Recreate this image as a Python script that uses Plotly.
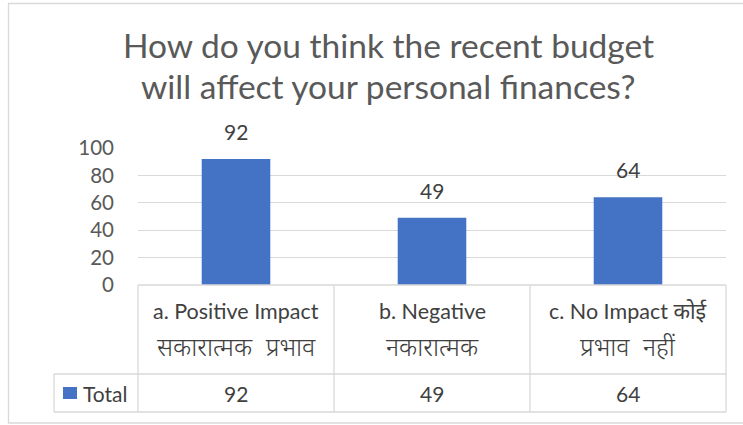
import plotly.graph_objects as go

categories_en = ["a. Positive Impact", "b. Negative", "c. No Impact कोई"]
categories_hi = ["सकारात्मक  प्रभाव", "नकारात्मक", "प्रभाव  नहीं"]
values = [92, 49, 64]
series_name = "Total"
title_lines = ["How do you think the recent budget", "will affect your personal finances?"]
y_ticks = [0, 20, 40, 60, 80, 100]

W, H = 743, 425
L, R, T, B = 138, 726, 148, 285
FONT = "Lato, 'Noto Sans', sans-serif"
BAR = "#4472C4"
GRID = "#D9D9D9"

def px(xp):
    return (xp - L) / (R - L)

def py(yp):
    return (B - yp) / (B - T)

fig = go.Figure()
fig.add_trace(go.Bar(
    x=list(range(len(values))), y=values, name=series_name,
    marker=dict(color=BAR, line=dict(width=0)),
    hoverinfo="skip",
))

shapes = []
def line(x0, y0, x1, y1, color=GRID, w=1.3):
    shapes.append(dict(type="line", xref="paper", yref="paper",
                       x0=px(x0), y0=py(y0), x1=px(x1), y1=py(y1),
                       line=dict(color=color, width=w)))

# chart outer border
shapes.append(dict(type="rect", xref="paper", yref="paper",
                   x0=px(8.5), y0=py(423), x1=px(745), y1=py(3.5),
                   line=dict(color="#D9D9D9", width=1.3)))
# table
col_edges = [138, 334, 530, 726]
line(138, 285, 726, 285)
for xe in col_edges:
    line(xe, 285, xe, 412)
line(54, 374, 726, 374)
line(54, 412, 726, 412)
line(54, 374, 54, 412)
# legend key
shapes.append(dict(type="rect", xref="paper", yref="paper",
                   x0=px(63), y0=py(399), x1=px(77), y1=py(387),
                   fillcolor=BAR, line=dict(width=0)))

annotations = []
centers = [(col_edges[i] + col_edges[i + 1]) / 2 for i in range(3)]
def note(x, y, text, size, xanchor="center", color="#404040", weight="normal"):
    annotations.append(dict(x=px(x), y=py(y), xref="paper", yref="paper",
                            text=text, showarrow=False, xanchor=xanchor,
                            yanchor="middle",
                            font=dict(family=FONT, size=size, color=color, weight=weight)))

for i in range(len(values)):
    note(centers[i], 311, categories_en[i], 21.5)
    note(centers[i], 346, categories_hi[i], 25, weight=300)
    note(centers[i], 393, str(values[i]), 21)
    # data labels above bars
    annotations.append(dict(x=i, y=values[i], xref="x", yref="y", text=str(values[i]),
                            showarrow=False, yanchor="bottom", yshift=13,
                            font=dict(family=FONT, size=21, color="#404040")))
note(81, 393, series_name, 21, xanchor="left")
note(388, 45, title_lines[0], 33.5, color="#595959")
note(388, 86, title_lines[1], 33.5, color="#595959")

fig.update_layout(
    width=W, height=H,
    margin=dict(l=L, r=W - R, t=T, b=H - B, pad=0),
    paper_bgcolor="white", plot_bgcolor="white",
    showlegend=False,
    bargap=0.65,
    hovermode=False,
    xaxis=dict(range=[-0.5, 2.5], showticklabels=False, showgrid=False,
               zeroline=False, showline=False, ticks=""),
    yaxis=dict(range=[0, 100], tickvals=y_ticks, showgrid=True, gridcolor=GRID,
               gridwidth=1.3, zeroline=False, showline=False, ticks="",
               ticklabelstandoff=23,
               tickfont=dict(family=FONT, size=20.5, color="#595959")),
    shapes=shapes, annotations=annotations,
)
fig.write_html("out.html", config={"displayModeBar": False},
               post_script="document.body.style.margin='0';document.body.style.overflow='hidden';")
